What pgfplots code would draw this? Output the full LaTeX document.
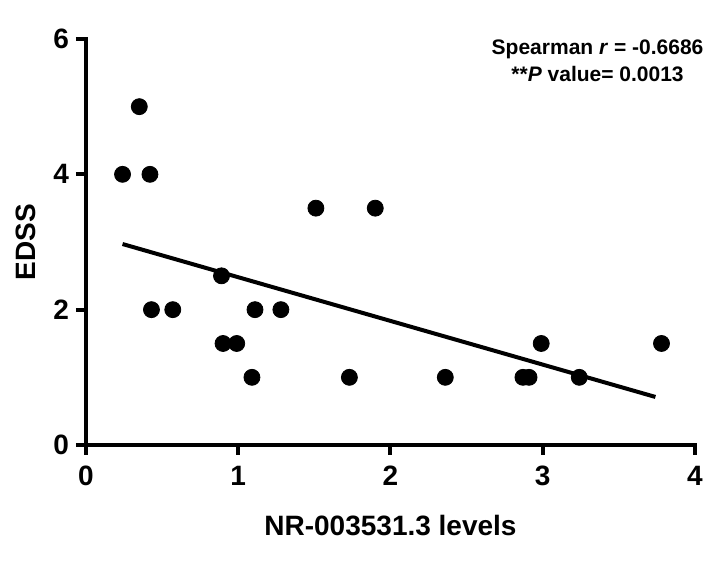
\documentclass[border=0pt]{standalone}
\usepackage{fontspec}
\setmainfont{Liberation Sans}
\usepackage{pgfplots}
\pgfplotsset{compat=1.18}
\begin{document}
\begin{tikzpicture}
  \begin{axis}[
    scale only axis,
    width=304.5pt,
    height=203pt,
    xmin=0, xmax=4,
    ymin=0, ymax=6,
    axis x line*=bottom,
    axis y line*=left,
    axis line style={line width=2pt, line cap=rect},
    xtick={0,1,2,3,4},
    ytick={0,2,4,6},
    tick style={line width=2pt, black},
    tick align=outside,
    major tick length=5pt,
    /pgf/number format/assume math mode=true,
    ticklabel style={font=\fontsize{14}{14}\selectfont\bfseries},
    xticklabel style={yshift=-2pt},
    xlabel={NR-003531.3 levels},
    ylabel={EDSS},
    label style={font=\fontsize{14}{14}\selectfont\bfseries},
    xlabel style={yshift=-8pt},
    ylabel style={yshift=2pt},
    clip=false
  ]

  % data points
  \addplot[
    only marks,
    mark=*,
    mark size=4pt,
    black
  ] coordinates {
    (0.24,4) (0.35,5) (0.42,4) (0.43,2) (0.57,2)
    (0.89,2.5) (0.90,1.5) (0.99,1.5) (1.09,1) (1.11,2)
    (1.28,2) (1.51,3.5) (1.73,1) (1.90,3.5) (2.36,1)
    (2.87,1) (2.91,1) (2.99,1.5) (3.24,1) (3.78,1.5)
  };

  % linear fit
  \addplot[
    black,
    line width=2pt
  ] coordinates {
    (0.24,2.97)
    (3.74,0.71)
  };

  \node[
    align=center,
    font=\fontsize{10.5}{13.5}\selectfont\bfseries
  ] at (axis cs:3.36,5.68)
    {Spearman \textit{r} = -0.6686\\**\textit{P} value= 0.0013};

  \end{axis}
  \pgfresetboundingbox
  \path[use as bounding box] (-43pt,-60.5pt) rectangle (311pt,222.5pt);
\end{tikzpicture}
\end{document}
